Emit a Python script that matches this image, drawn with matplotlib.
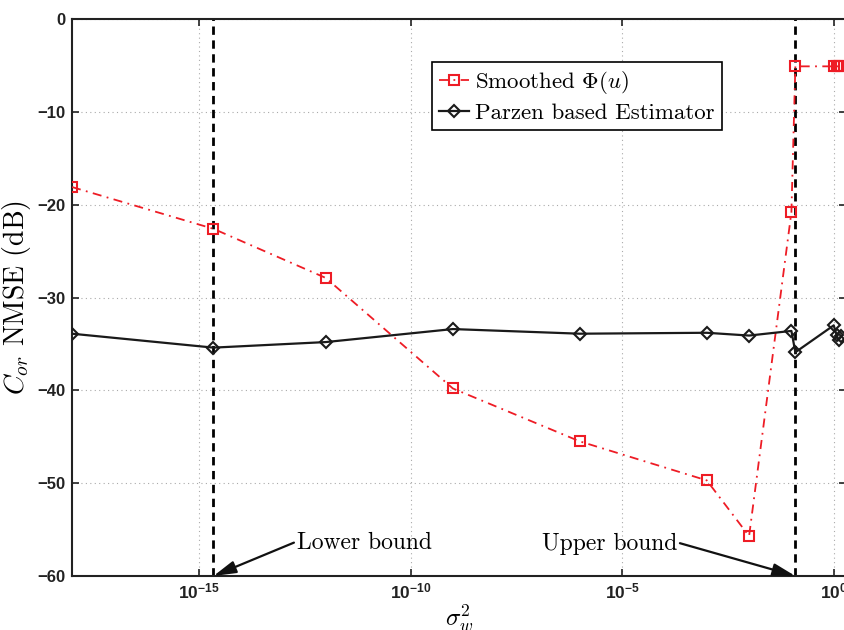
import numpy as np
import matplotlib
matplotlib.use("Agg")
import matplotlib.pyplot as plt
from matplotlib.ticker import FixedLocator, NullLocator

# noise variance values (sigma_w^2)
sigma2 = [1e-18, 2.2e-15, 1e-12, 1e-9, 1e-6, 1e-3, 1e-2, 0.1, 0.124, 1.0, 1.17, 1.3, 1.45]

smoothed_phi = [-18.1, -22.6, -27.9, -39.8, -45.5, -49.7, -55.7, -20.8, -5.1, -5.1, -5.1, -5.1, -5.1]
parzen = [-33.9, -35.4, -34.8, -33.4, -33.9, -33.8, -34.1, -33.6, -35.9, -33.0, -34.05, -34.6, -34.2]

lower_bound = 2.2e-15
upper_bound = 0.124

xticks = [1e-15, 1e-10, 1e-5, 1e0]
xticklabels = [r"$\mathbf{10^{-15}}$", r"$\mathbf{10^{-10}}$", r"$\mathbf{10^{-5}}$", r"$\mathbf{10^{0}}$"]
yticks = [0, -10, -20, -30, -40, -50, -60]

plt.rcParams["mathtext.fontset"] = "cm"
plt.rcParams["mathtext.rm"] = "Liberation Sans:bold"
plt.rcParams["mathtext.bf"] = "Liberation Sans:bold"
plt.rcParams["axes.unicode_minus"] = True

red = "#ee1c25"
tex = "cmr10"

fig = plt.figure(figsize=(8.45, 6.3), dpi=100)
ax = fig.add_axes([72 / 845, 54 / 630, 774 / 845, 557 / 630])

ax.axvline(lower_bound, color="black", lw=2, linestyle=(0, (3, 2)), zorder=2)
ax.axvline(upper_bound, color="black", lw=2, linestyle=(0, (3, 2)), zorder=2)

ax.plot(sigma2, smoothed_phi, color=red, lw=1.3, linestyle=(0, (5, 3, 1, 3)),
        marker="s", markersize=6.5, markerfacecolor="none", markeredgewidth=1.5,
        label=r"Smoothed $\Phi(u)$", zorder=3)
ax.plot(sigma2, parzen, color="#1a1a1a", lw=1.6, marker="D", markersize=6,
        markerfacecolor="none", markeredgewidth=1.5,
        label="Parzen based Estimator", zorder=3)

ax.set_xscale("log")
ax.set_xlim(1e-18, 1.95)
ax.set_ylim(-60, 0)
ax.xaxis.set_major_locator(FixedLocator(xticks))
ax.xaxis.set_minor_locator(NullLocator())
ax.set_xticklabels(xticklabels)
ax.set_yticks(yticks)
ax.set_yticklabels([str(v).replace("-", "\u2212") for v in yticks],
                   fontfamily="Liberation Sans", fontweight="bold")
for lbl in ax.get_xticklabels():
    lbl.set_math_fontfamily("custom")
    lbl.set_fontsize(12.5)
for lbl in ax.get_yticklabels():
    lbl.set_fontsize(12)

ax.tick_params(which="both", direction="in", top=True, right=True, length=5,
               width=1.2, pad=5, colors="#222222")
ax.grid(True, which="major", linestyle=(0, (1, 3)), color="#aaaaaa", lw=0.8)
for s in ax.spines.values():
    s.set_linewidth(1.5)
    s.set_color("#222222")

ax.set_xlabel(r"$\sigma_w^2$", fontsize=18, labelpad=0)
ax.set_ylabel(r"$C_{or}$ NMSE (dB)", fontsize=20, fontfamily=tex, labelpad=3)

leg = ax.legend(loc="upper left", bbox_to_anchor=(0.465, 0.923), fancybox=False,
                framealpha=1, edgecolor="black", prop={"family": tex, "size": 16.5},
                handlelength=1.3, handletextpad=0.3, borderpad=0.3, labelspacing=0.3,
                borderaxespad=0)
leg.get_frame().set_linewidth(1.2)

ax.annotate("Lower bound", xy=(lower_bound, -60), xytext=(10 ** -12.69, -56.4),
            ha="left", va="center", fontsize=17, fontfamily=tex,
            arrowprops=dict(arrowstyle="-|>,head_length=0.8,head_width=0.22",
                            color="#111111", lw=1.6, shrinkA=0, shrinkB=0,
                            relpos=(0, 0.55)))
ax.annotate("Upper bound", xy=(upper_bound, -60), xytext=(10 ** -3.70, -56.5),
            ha="right", va="center", fontsize=17, fontfamily=tex,
            arrowprops=dict(arrowstyle="-|>,head_length=0.8,head_width=0.22",
                            color="#111111", lw=1.6, shrinkA=0, shrinkB=0,
                            relpos=(1, 0.55)))

fig.savefig("out.png", dpi=100)
